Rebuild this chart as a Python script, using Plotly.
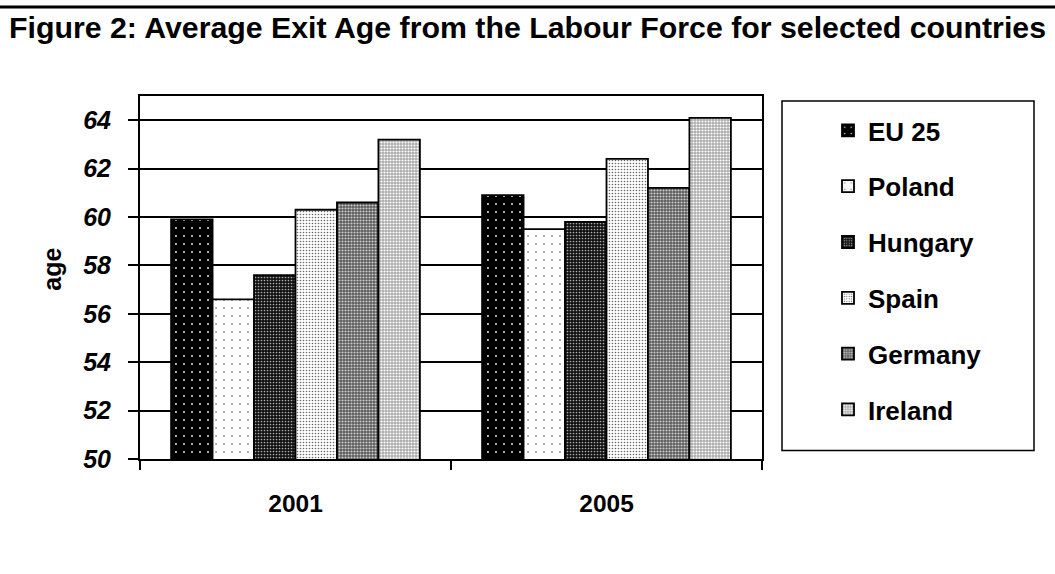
import plotly.graph_objects as go

years = ["2001", "2005"]
countries = ["EU 25", "Poland", "Hungary", "Spain", "Germany", "Ireland"]
eu25 = [59.9, 60.9]
poland = [56.6, 59.5]
hungary = [57.6, 59.8]
spain = [60.3, 62.4]
germany = [60.6, 61.2]
ireland = [63.2, 64.1]
series = [eu25, poland, hungary, spain, germany, ireland]

y_ticks = [50, 52, 54, 56, 58, 60, 62, 64]

# pattern styling per series (bg, fg, size, solidity)
styles = [
    ("#000000", "#ffffff", 8, 0.04),
    ("#ffffff", "#999999", 8, 0.05),
    ("#111111", "#aaaaaa", 3, 0.25),
    ("#ffffff", "#666666", 3, 0.22),
    ("#5a5a5a", "#cccccc", 3, 0.40),
    ("#aaaaaa", "#ffffff", 3, 0.40),
]

W, H = 1055, 574
L, R, T, B = 140, 762, 96, 459.5
PW, PH = R - L, B - T

def px(x):
    return (x - L) / PW

def py(y):
    return (B - y) / PH

FONT = "Liberation Sans, Arial, sans-serif"

fig = go.Figure()
for name, vals, (bg, fg, sz, sol) in zip(countries, series, styles):
    fig.add_trace(go.Bar(
        name=name, x=years, y=vals, legendgroup=name,
        marker=dict(
            color=bg,
            line=dict(color="#000000", width=1.8),
            pattern=dict(shape=".", bgcolor=bg, fgcolor=fg, size=sz,
                         solidity=sol, fillmode="replace"),
        ),
    ))

fig.update_layout(
    width=W, height=H,
    margin=dict(l=L, r=W - R, t=T, b=H - B, autoexpand=False),
    paper_bgcolor="white", plot_bgcolor="white",
    barmode="group", bargap=0.2, bargroupgap=0,
    font=dict(family=FONT, color="black"),
    title=dict(
        text="<b>Figure 2: Average Exit Age from the Labour Force for selected countries</b>",
        font=dict(family=FONT, size=30.3, color="black"),
        x=0.5, xref="container", xanchor="center",
        y=1 - 27 / H, yref="container", yanchor="middle",
    ),
    showlegend=True,
    legend=dict(
        x=px(828), y=py(107), xanchor="left", yanchor="top",
        font=dict(family=FONT, size=26, color="black", weight="bold"),
        traceorder="grouped", tracegroupgap=19,
        bgcolor="rgba(0,0,0,0)", borderwidth=0,
    ),
    xaxis=dict(
        type="category", showline=True, linecolor="black", linewidth=2,
        mirror=True, ticks="outside", tickson="boundaries", ticklen=9,
        tickwidth=1.5, tickcolor="black", showgrid=False,
        tickfont=dict(family=FONT, size=24.5, color="black", weight="bold"),
        ticklabelstandoff=22,
    ),
    yaxis=dict(
        range=[50, 65], tickvals=y_ticks, ticktext=[str(v) for v in y_ticks],
        showline=True, linecolor="black", linewidth=2, mirror=True,
        ticks="outside", ticklen=10, tickwidth=2, tickcolor="black",
        showgrid=True, gridcolor="black", gridwidth=2, zeroline=False,
        tickfont=dict(family=FONT, size=25, color="black", weight="bold",
                      style="italic"),
        ticklabelstandoff=12,
    ),
    shapes=[
        dict(type="line", xref="paper", yref="paper",
             x0=px(0), x1=px(W), y0=py(7), y1=py(7),
             line=dict(color="black", width=3)),
        dict(type="rect", xref="paper", yref="paper",
             x0=px(782), x1=px(1034), y0=py(101), y1=py(451),
             line=dict(color="black", width=1.5), fillcolor="rgba(0,0,0,0)"),
    ],
    annotations=[
        dict(text="<b>age</b>", xref="paper", yref="paper",
             x=px(52), y=py(270), xanchor="center", yanchor="middle",
             textangle=-90, showarrow=False,
             font=dict(family=FONT, size=25, color="black")),
    ],
)

fig.write_html("out.html")
